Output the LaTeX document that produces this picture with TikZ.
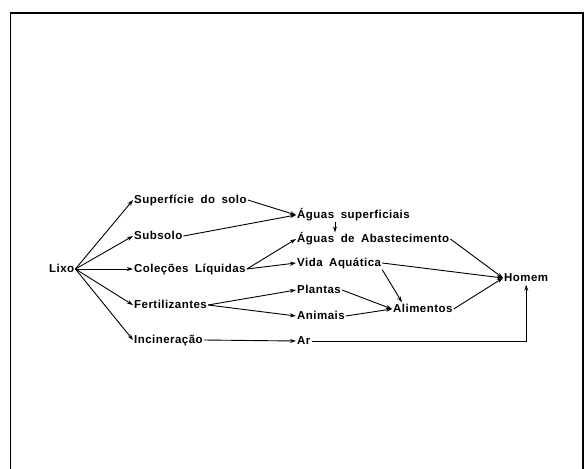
\documentclass[tikz,border=0pt]{standalone}
\usepackage{fontspec}
\setmainfont[LetterSpace=4,WordSpace=1.8]{Liberation Sans}
\usetikzlibrary{arrows.meta}

\begin{document}
\begin{tikzpicture}[x=1pt,y=-1pt,
    txt/.style={anchor=west,inner sep=1pt,font=\fontsize{11.5}{13}\bfseries,text height=8.5pt,text depth=2.5pt},
    flow/.style={-{Stealth[length=6pt,width=4pt]},line width=0.9pt}]
      \useasboundingbox (0,0) rectangle (587,469);
      % frame
      \draw[line width=1.3pt] (10.5,469) -- (10.5,13) -- (583,13) -- (583,469);
      % nodes
      \node[txt] (lixo) at (48,269) {Lixo};
      \node[txt] (sup) at (133,200) {Superfície do solo};
      \node[txt] (sub) at (133,236) {Subsolo};
      \node[txt] (col) at (133,269) {Coleções Líquidas};
      \node[txt] (fert) at (133,305) {Fertilizantes};
      \node[txt] (inc) at (133,340) {Incineração};
      \node[txt] (asup) at (296,215) {Águas superficiais};
      \node[txt] (aabs) at (296,239) {Águas de Abastecimento};
      \node[txt] (vida) at (296,263) {Vida Aquática};
      \node[txt] (plan) at (296,290) {Plantas};
      \node[txt] (anim) at (296,316) {Animais};
      \node[txt] (ar) at (296,341) {Ar};
      \node[txt] (alim) at (392,309) {Alimentos};
      \node[txt] (homem) at (503,278) {Homem};
      % connectors
      \foreach \t in {sup,sub,col,fert,inc}
        \draw[flow] (lixo.east) -- (\t.west);
      \draw[flow] (sup.east) -- (asup.west);
      \draw[flow] (sub.east) -- (asup.west);
      \draw[flow] ([xshift=39pt]asup.south west) -- ([xshift=39pt]aabs.north west);
      \draw[flow] (col.east) -- (aabs.west);
      \draw[flow] (col.east) -- (vida.west);
      \draw[flow] (fert.east) -- (plan.west);
      \draw[flow] (fert.east) -- (anim.west);
      \draw[flow] (inc.east) -- (ar.west);
      \draw[flow] (plan.east) -- (alim.west);
      \draw[flow] (anim.east) -- (alim.west);
      \draw[flow] (vida.south east) -- ([xshift=10pt]alim.north west);
      \draw[flow] (aabs.east) -- (homem.west);
      \draw[flow] (vida.east) -- (homem.west);
      \draw[flow] (alim.east) -- (homem.west);
      \draw[flow] (ar.east) -| (homem.south);
    \end{tikzpicture}
\end{document}
